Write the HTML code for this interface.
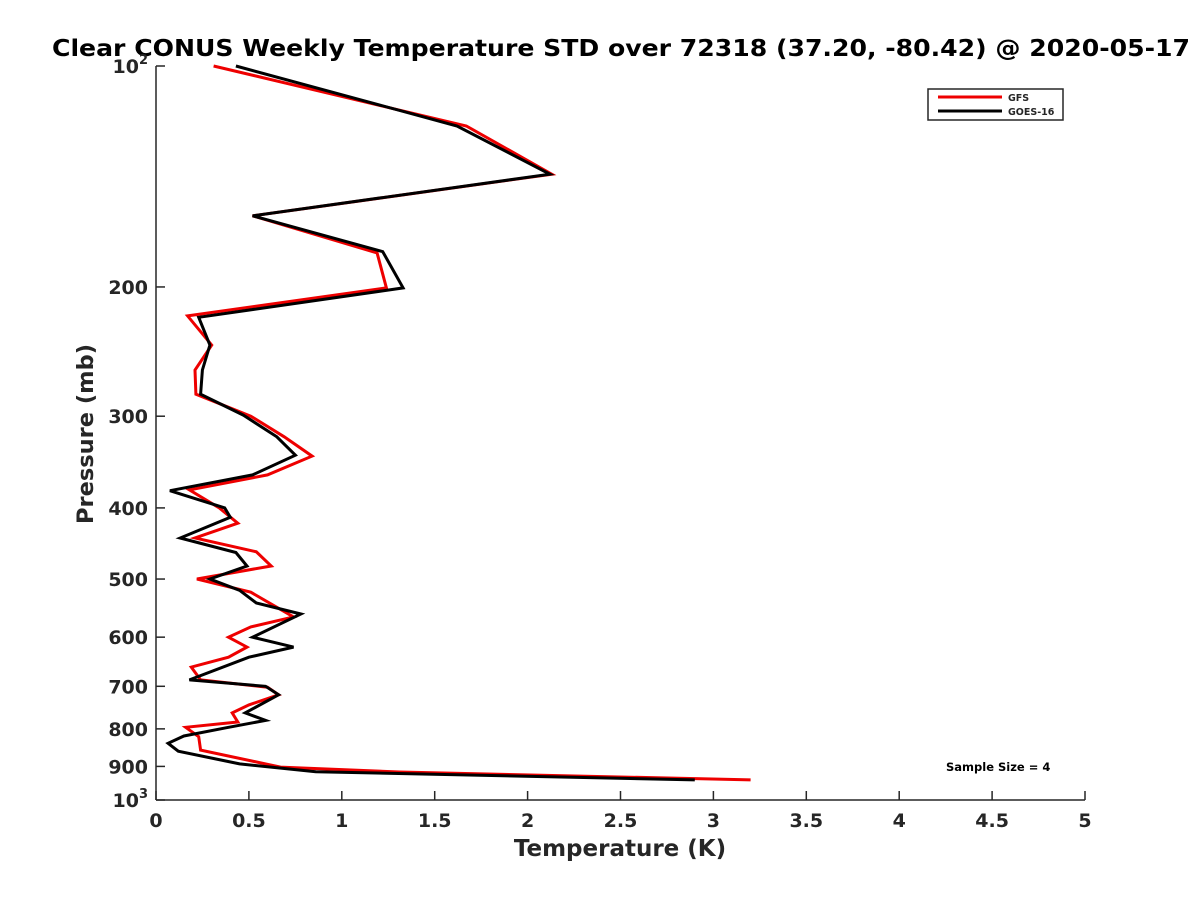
<!DOCTYPE html>
<html><head><meta charset="utf-8"><style>
body{margin:0;background:#fff}
svg text{font-family:"DejaVu Sans","Liberation Sans",sans-serif;font-weight:bold;fill:#262626}
</style></head><body>
<svg id="chart" width="1200" height="900" viewBox="0 0 1200 900" xmlns="http://www.w3.org/2000/svg">
<rect width="1200" height="900" fill="#fff"/>
<text x="52" y="56" font-size="23" textLength="1138" lengthAdjust="spacingAndGlyphs" style="fill:#000">Clear CONUS Weekly Temperature STD over 72318 (37.20, -80.42) @ 2020-05-17</text>
<g id="axes"></g>
<g id="series"></g>
<g>
<rect x="928" y="89" width="135" height="31" fill="#fff" stroke="#262626" stroke-width="1.5"/>
<line x1="938" y1="97" x2="1002" y2="97" stroke="#e00" stroke-width="3"/>
<text x="1008" y="101" font-size="9.5">GFS</text>
<line x1="938" y1="111" x2="1002" y2="111" stroke="#000" stroke-width="3"/>
<text x="1008" y="115" font-size="9.5">GOES-16</text>
</g>
<text x="946" y="771" font-size="11.5" style="fill:#000">Sample Size = 4</text>
<text x="620" y="856" font-size="23" text-anchor="middle">Temperature (K)</text>
<text transform="translate(93,434) rotate(-90)" font-size="22.5" text-anchor="middle">Pressure (mb)</text>
</svg>
<script>
const gfsT=[0.31,1.67,2.13,0.52,1.19,1.24,0.17,0.30,0.21,0.215,0.51,0.69,0.84,0.60,0.18,0.34,0.44,0.21,0.54,0.62,0.22,0.51,0.74,0.51,0.39,0.49,0.39,0.19,0.24,0.60,0.66,0.50,0.41,0.44,0.16,0.23,0.24,0.67,1.31,3.2];
const gfsP=[100,120.7,140.4,160,179.8,200.6,219,240,259.5,280,300,320,340,360.7,378,400,419.6,439.6,459,480,500,521,563,581,600,619,639,659,686,702,719,742,761,783,796,820,855,902,916,939];
const goesT=[0.43,1.62,2.12,0.52,1.22,1.33,0.23,0.29,0.25,0.24,0.47,0.65,0.75,0.52,0.075,0.37,0.40,0.13,0.43,0.49,0.29,0.45,0.54,0.78,0.52,0.74,0.50,0.18,0.59,0.66,0.48,0.59,0.38,0.15,0.065,0.12,0.45,0.86,2.9];
const goesP=[100,120.7,140.4,160,179,200.6,220,240,259.5,280,299,320,339,360.7,379,400,412,439.6,460,480,500,518,539,558,600,619,639,686,700,719,761,779,797,818,837,858,893,915,939];
const xTicks=[0,0.5,1,1.5,2,2.5,3,3.5,4,4.5,5];
const xTickLabels=["0","0.5","1","1.5","2","2.5","3","3.5","4","4.5","5"];
const yTicks=[100,200,300,400,500,600,700,800,900,1000];
const yTickLabels=["10|2","200","300","400","500","600","700","800","900","10|3"];
const X0=156,X1=1085,Y0=66,Y1=800;
const xs=t=>X0+(t/5)*(X1-X0);
const ys=p=>Y0+Math.log10(p/100)*(Y1-Y0);
const NS="http://www.w3.org/2000/svg";
const axes=document.getElementById('axes'),ser=document.getElementById('series');
function mk(tag,attrs,parent){const e=document.createElementNS(NS,tag);for(const k in attrs)e.setAttribute(k,attrs[k]);parent.appendChild(e);return e;}
const xl=mk('line',{x1:X0,y1:Y1,x2:X1,y2:Y1,stroke:'#262626','stroke-width':1.5},axes);


const yl=mk('line',{x1:X0,y1:Y0,x2:X0,y2:Y1,stroke:'#262626','stroke-width':1.5},axes);


xTicks.forEach((t,i)=>{
 mk('line',{x1:xs(t),y1:Y1,x2:xs(t),y2:Y1-9,stroke:'#262626','stroke-width':1.5},axes);
 const tx=mk('text',{x:xs(t),y:Y1+27,'font-size':19,'text-anchor':'middle'},axes);
 tx.textContent=xTickLabels[i];
 
 
});
yTicks.forEach((p,i)=>{
 mk('line',{x1:X0,y1:ys(p),x2:X0+9,y2:ys(p),stroke:'#262626','stroke-width':1.5},axes);
 const lab=yTickLabels[i];
 const tx=mk('text',{x:X0-8,y:ys(p)+7,'font-size':19,'text-anchor':'end'},axes);
 if(lab.includes('|')){
  const [b,e]=lab.split('|');
  const t1=mk('tspan',{},tx);t1.textContent=b;
  const t2=mk('tspan',{dy:-9,'font-size':13},tx);t2.textContent=e;
 } else tx.textContent=lab;
 
 
});
function line(T,P,color,name){
 const pts=T.map((t,i)=>xs(t).toFixed(1)+','+ys(P[i]).toFixed(1)).join(' ');
 const pl=mk('polyline',{points:pts,fill:'none',stroke:color,'stroke-width':3,'stroke-linejoin':'miter'},ser);
 
 
}
line(gfsT,gfsP,'#e00','gfs-line');
line(goesT,goesP,'#000','goes16-line');
</script>
</body></html>
